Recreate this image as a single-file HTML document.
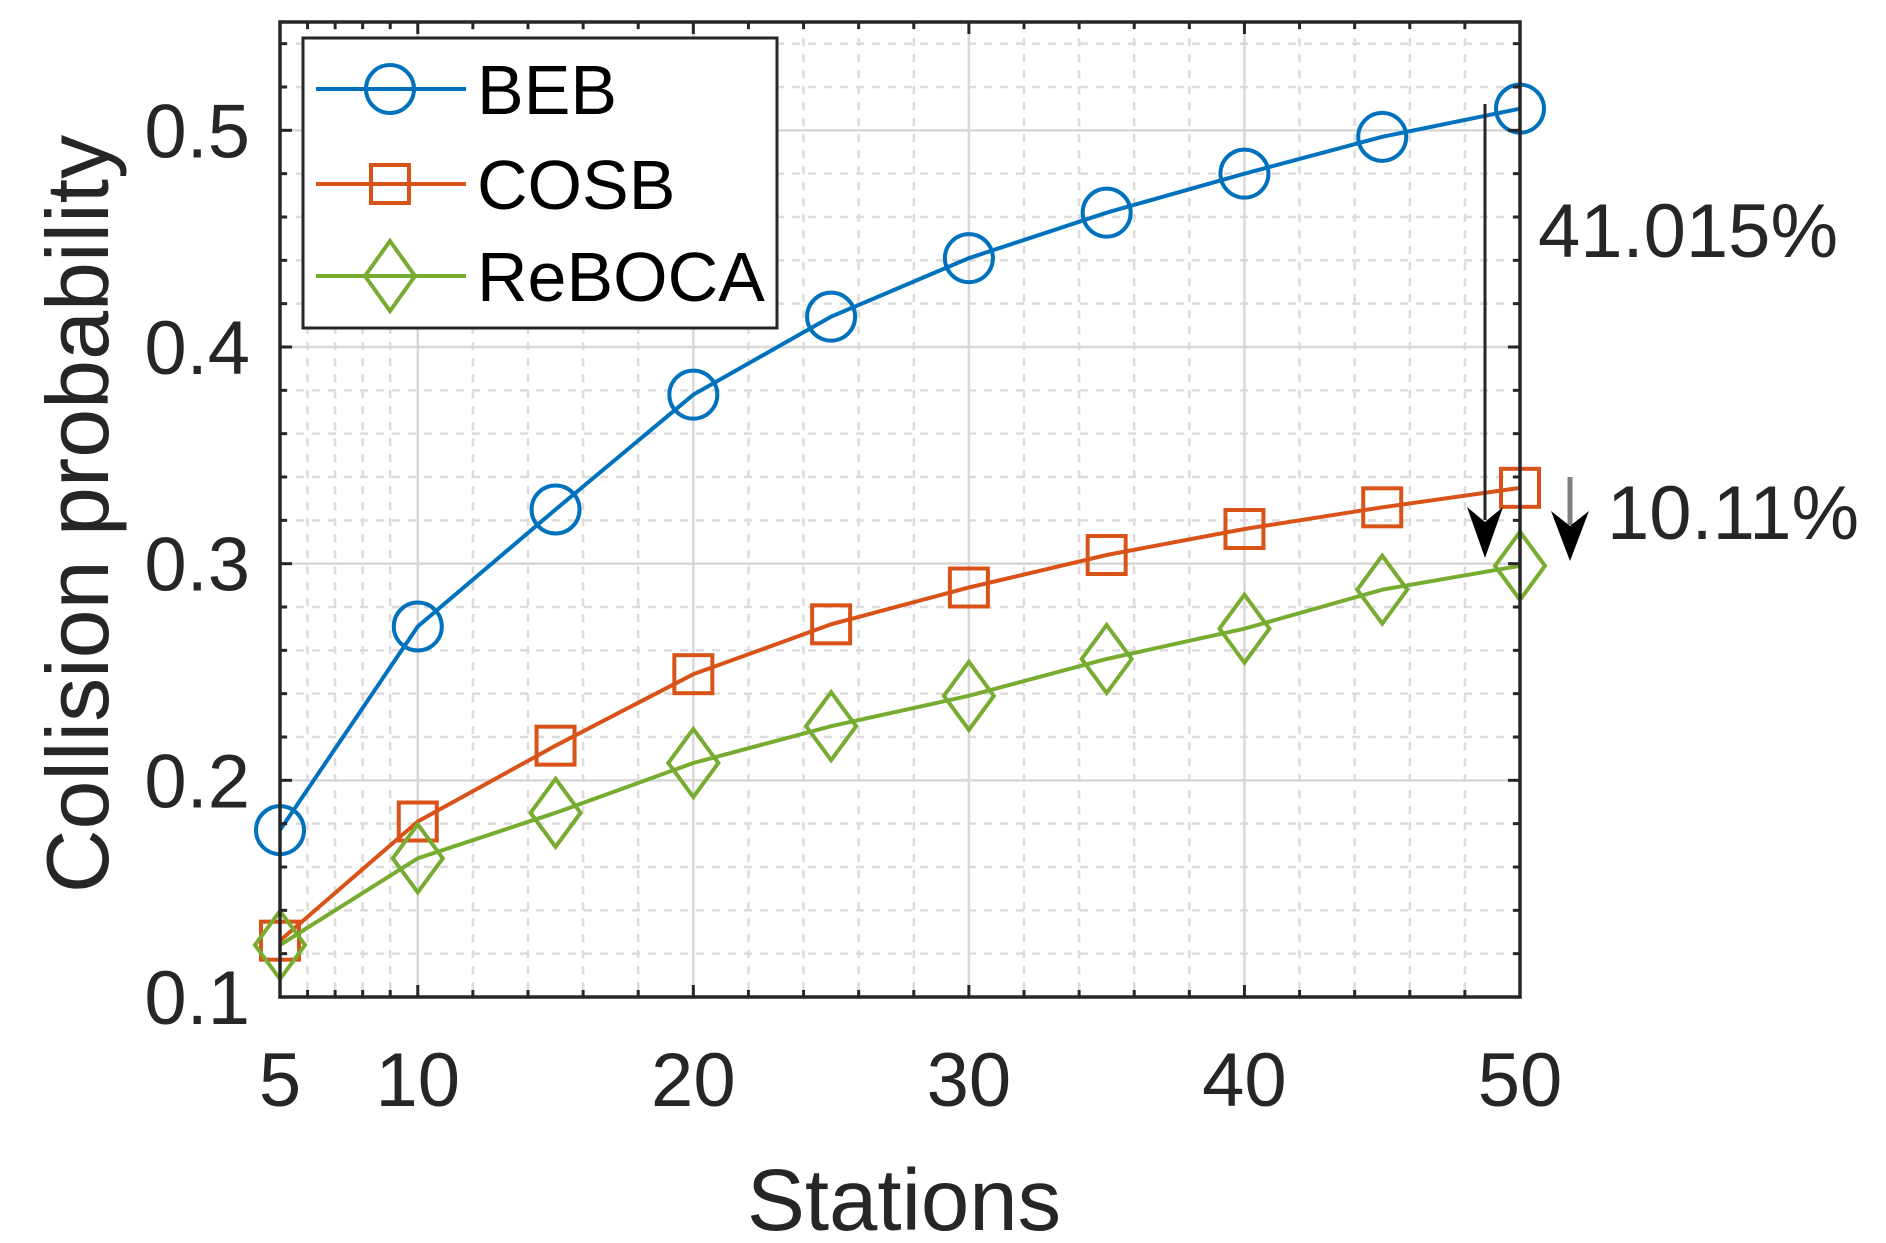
<!DOCTYPE html>
<html><head><meta charset="utf-8"><style>
html,body{margin:0;padding:0;background:#fff;}
svg{display:block;font-family:"Liberation Sans",sans-serif;}
</style></head><body>
<svg id="chart" width="1886" height="1243" viewBox="0 0 1886 1243" xmlns="http://www.w3.org/2000/svg">
<g id="grid"></g>
<g id="series"></g>
<g id="axes"></g>
</svg>
<script>
const stations = [5,10,15,20,25,30,35,40,45,50];
const bebValues = [0.177,0.271,0.325,0.378,0.414,0.441,0.462,0.480,0.497,0.510];
const cosbValues = [0.126,0.181,0.216,0.249,0.272,0.289,0.304,0.316,0.326,0.335];
const rebocaValues = [0.124,0.164,0.185,0.208,0.225,0.239,0.256,0.270,0.288,0.299];
const xTickLabels = [5,10,20,30,40,50];
const yTickLabels = [0.1,0.2,0.3,0.4,0.5];
const seriesNames = ["BEB","COSB","ReBOCA"];

const NS="http://www.w3.org/2000/svg";
const L=280,R=1520,T=22,B=997;
const xMin=5,xMax=50,yMin=0.1,yMax=0.55;
function xs(v){return L+(v-xMin)/(xMax-xMin)*(R-L);}
function ys(v){return B-(v-yMin)/(yMax-yMin)*(B-T);}
function mk(tag,attrs,parent){const e=document.createElementNS(NS,tag);for(const k in attrs)e.setAttribute(k,attrs[k]);parent.appendChild(e);return e;}
const grid=document.getElementById('grid'),ser=document.getElementById('series'),axes=document.getElementById('axes'),svg=document.getElementById('chart');

const xMinor=[6,7,8,9,12,14,16,18,22,24,26,28,32,34,36,38,42,44,46,48];
for(const v of xMinor){const l=mk('line',{x1:xs(v),x2:xs(v),y1:T,y2:B,stroke:'#dcdcdc','stroke-width':2.5,'stroke-dasharray':'8 8'},grid);

}
for(let i=0;i<=22;i++){const v=0.1+i*0.02;if(i%5===0)continue;
const l=mk('line',{x1:L,x2:R,y1:ys(v),y2:ys(v),stroke:'#dcdcdc','stroke-width':2.5,'stroke-dasharray':'8 8'},grid);

}
for(const v of [10,20,30,40,50]){const l=mk('line',{x1:xs(v),x2:xs(v),y1:T,y2:B,stroke:'#d8d8d8','stroke-width':2.5},grid);

}
for(const v of yTickLabels){const l=mk('line',{x1:L,x2:R,y1:ys(v),y2:ys(v),stroke:'#d8d8d8','stroke-width':2.5},grid);

}

const colors=['#0072BD','#D95319','#77AC30'];
const data=[bebValues,cosbValues,rebocaValues];
function marker(kind,cx,cy,color,parent){
  let m;
  if(kind===0) m=mk('circle',{cx:cx,cy:cy,r:24,fill:'none',stroke:color,'stroke-width':4},parent);
  else if(kind===1) m=mk('rect',{x:cx-19,y:cy-19,width:38,height:38,fill:'none',stroke:color,'stroke-width':4},parent);
  else m=mk('polygon',{points:`${cx},${cy-34} ${cx+25},${cy} ${cx},${cy+34} ${cx-25},${cy}`,fill:'none',stroke:color,'stroke-width':4},parent);
  return m;
}
data.forEach((vals,si)=>{
  const g=mk('g',{},ser);
  
  
  const pts=vals.map((v,i)=>xs(stations[i])+','+ys(v)).join(' ');
  const pl=mk('polyline',{points:pts,fill:'none',stroke:colors[si],'stroke-width':4},g);
  
  
  vals.forEach((v,i)=>{const m=marker(si,xs(stations[i]),ys(v),colors[si],g);
    
    });
});

const box=mk('rect',{x:L,y:T,width:R-L,height:B-T,fill:'none',stroke:'#262626','stroke-width':3.5},axes);


for(const v of xMinor.concat([10,20,30,40])){const len=[10,20,30,40].includes(v)?12:7;
 const a=mk('line',{x1:xs(v),x2:xs(v),y1:B,y2:B-len,stroke:'#262626','stroke-width':3},axes);
 
 
 const b=mk('line',{x1:xs(v),x2:xs(v),y1:T,y2:T+len,stroke:'#262626','stroke-width':3},axes);
 
 }
for(let i=1;i<=22;i++){const v=0.1+i*0.02;const len=(i%5===0)?12:7;
 const a=mk('line',{x1:L,x2:L+len,y1:ys(v),y2:ys(v),stroke:'#262626','stroke-width':3},axes);
 
 
 const b=mk('line',{x1:R,x2:R-len,y1:ys(v),y2:ys(v),stroke:'#262626','stroke-width':3},axes);
 
 }
for(const v of xTickLabels){const t=mk('text',{x:xs(v),y:1106,'font-size':76,'text-anchor':'middle',fill:'#262626'},axes);t.textContent=v;
 
 }
for(const v of yTickLabels){const t=mk('text',{x:250,y:ys(v)+27,'font-size':76,'text-anchor':'end',fill:'#262626'},axes);t.textContent=v.toFixed(1);
 
 }
</script>
<script>
(function(){
const NS="http://www.w3.org/2000/svg",svg=document.getElementById('chart');
function mk(tag,attrs,parent){const e=document.createElementNS(NS,tag);for(const k in attrs)e.setAttribute(k,attrs[k]);parent.appendChild(e);return e;}
const xt=mk('text',{x:904,y:1230,'font-size':87,'text-anchor':'middle',fill:'#262626'},svg);xt.textContent='Stations';


const yt=mk('text',{x:0,y:0,'font-size':88,'text-anchor':'middle',fill:'#262626',transform:'translate(108,514) rotate(-90)'},svg);yt.textContent='Collision probability';


const lg=mk('g',{},svg);


mk('rect',{x:303,y:38,width:474,height:290,fill:'#fff',stroke:'#262626','stroke-width':3},lg);
const cols=['#0072BD','#D95319','#77AC30'],names=['BEB','COSB','ReBOCA'],yy=[89,184,276];
for(let i=0;i<3;i++){
 const g=mk('g',{},lg);
 
 
 mk('line',{x1:316,x2:466,y1:yy[i],y2:yy[i],stroke:cols[i],'stroke-width':4},g);
 if(i===0)mk('circle',{cx:390,cy:yy[i],r:24,fill:'none',stroke:cols[i],'stroke-width':4},g);
 else if(i===1)mk('rect',{x:371,y:yy[i]-19,width:38,height:38,fill:'none',stroke:cols[i],'stroke-width':4},g);
 else mk('polygon',{points:`390,${yy[i]-35} 415,${yy[i]} 390,${yy[i]+35} 365,${yy[i]}`,fill:'none',stroke:cols[i],'stroke-width':4},g);
 const t=mk('text',{x:477,y:yy[i]+25,'font-size':70,fill:'#000'},g);t.textContent=names[i];
}
const a1=mk('g',{},svg);


mk('line',{x1:1485,x2:1485,y1:104,y2:520,stroke:'#262626','stroke-width':3},a1);
mk('polygon',{points:'1467,507 1485,522 1503,507 1485,558',fill:'#000'},a1);
const t1=mk('text',{x:1538,y:257,'font-size':76,fill:'#262626'},svg);t1.textContent='41.015%';


const a2=mk('g',{},svg);


mk('line',{x1:1570,x2:1570,y1:477,y2:525,stroke:'#808080','stroke-width':5},a2);
mk('polygon',{points:'1551,511 1570,526 1589,511 1570,561',fill:'#000'},a2);
const t2=mk('text',{x:1607,y:539,'font-size':76,fill:'#262626'},svg);t2.textContent='10.11%';


})();
</script>
</body></html>
